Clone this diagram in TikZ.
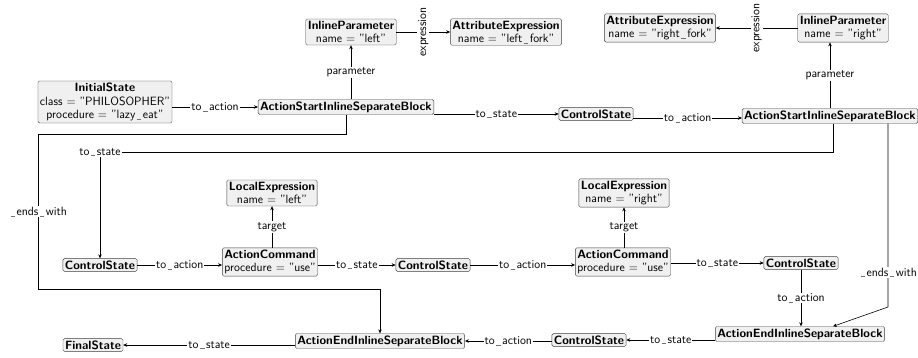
\documentclass[tikz,border=0pt]{standalone}
\usepackage{amsmath}
\usepackage{tikz}
\usetikzlibrary{arrows.meta}

% spaced low underscore
\newcommand{\usc}{\kern.12em\textcolor{black!55}{\rule[-0.6pt]{.38em}{.45pt}}\kern.12em}

\tikzset{
  obj/.style={draw=black!75, fill=gray!12, rounded corners=1.5pt, inner sep=2pt,
    align=center, font=\sffamily\fontsize{12}{13.5}\selectfont},
  lbl/.style={fill=white, inner sep=1pt, font=\sffamily\fontsize{12}{13.5}\selectfont},
  link/.style={-{Stealth[length=4pt,width=3.5pt]}, line width=0.6pt},
}

\begin{document}
\begin{tikzpicture}[x=1pt,y=-1pt]
\useasboundingbox (0,0) rectangle (918,358);
% top row
\node[obj] (init) at (105,102) {\textbf{InitialState}\\class $=$ "PHILOSOPHER"\\procedure $=$ "lazy\usc eat"};
\node[obj] (asisbA) at (346,107) {\textbf{ActionStartInlineSeparateBlock}};
\node[obj] (paramL) at (351,32) {\textbf{InlineParameter}\\name $=$ "left"};
\node[obj] (attrL) at (506,32) {\textbf{AttributeExpression}\\name $=$ "left\usc fork"};
\node[obj] (csA) at (596,114) {\textbf{ControlState}};
\node[obj] (asisbB) at (830,116) {\textbf{ActionStartInlineSeparateBlock}};
\node[obj] (paramR) at (843,28) {\textbf{InlineParameter}\\name $=$ "right"};
\node[obj] (attrR) at (660,28) {\textbf{AttributeExpression}\\name $=$ "right\usc fork"};
% middle row
\node[obj] (csB) at (100,265) {\textbf{ControlState}};
\node[obj] (cmdL) at (270,262) {\textbf{ActionCommand}\\procedure $=$ "use"};
\node[obj] (locL) at (272,193) {\textbf{LocalExpression}\\name $=$ "left"};
\node[obj] (csC) at (433,265) {\textbf{ControlState}};
\node[obj] (cmdR) at (623,262) {\textbf{ActionCommand}\\procedure $=$ "use"};
\node[obj] (locR) at (624,193) {\textbf{LocalExpression}\\name $=$ "right"};
\node[obj] (csD) at (801,263) {\textbf{ControlState}};
% bottom row
\node[obj] (final) at (93,345) {\textbf{FinalState}};
\node[obj] (aeisbA) at (380,341) {\textbf{ActionEndInlineSeparateBlock}};
\node[obj] (csE) at (589,340) {\textbf{ControlState}};
\node[obj] (aeisbB) at (800,334) {\textbf{ActionEndInlineSeparateBlock}};

% top row links
\draw[link] (init.east |- asisbA) -- node[lbl] {to\usc action} (asisbA);
\draw[link] (paramL.south |- asisbA.north) -- node[lbl] {parameter} (paramL.south);
\draw[link] (paramL) -- node[lbl, rotate=90] {expression} (attrL);
\draw[link] (asisbA.east |- csA) -- node[lbl] {to\usc state} (csA);
\draw[link] (csA.east |- 0,118) -- node[lbl] {to\usc action} (asisbB.west |- 0,118);
\draw[link] (asisbB.north) -- node[lbl] {parameter} (asisbB.north |- paramR.south);
\draw[link] (paramR) -- node[lbl, rotate=90] {expression} (attrR);
% long links
\draw[link] ([xshift=3pt]asisbB.south) |- (100,152) node[lbl] {to\usc state} -- (csB.north);
\draw[link] (asisbA.south) |- (38,134) -- node[lbl] {\usc ends\usc with} (38,289) -| (aeisbA.north);
\draw[link] ([xshift=58pt]asisbB.south) -- node[lbl, pos=0.81] {\usc ends\usc with} (888,307) -- ([xshift=33pt]aeisbB.north);
% middle row links
\draw[link] (csB) -- node[lbl] {to\usc action} (cmdL.west |- csB);
\draw[link] (cmdL.east |- csC) -- node[lbl] {to\usc state} (csC);
\draw[link] (locL.south |- cmdL.north) -- node[lbl] {target} (locL.south);
\draw[link] (csC) -- node[lbl] {to\usc action} (cmdR.west |- csC);
\draw[link] (cmdR.east |- csD) -- node[lbl] {to\usc state} (csD);
\draw[link] (locR.south |- cmdR.north) -- node[lbl] {target} (locR.south);
\draw[link] (csD.south) -- node[lbl] {to\usc action} (csD.south |- aeisbB.north);
% bottom row links
\draw[link] (aeisbB.west |- csE) -- node[lbl] {to\usc state} (csE);
\draw[link] (csE.west |- aeisbA) -- node[lbl] {to\usc action} (aeisbA);
\draw[link] (aeisbA.west |- final) -- node[lbl] {to\usc state} (final);
\end{tikzpicture}
\end{document}
